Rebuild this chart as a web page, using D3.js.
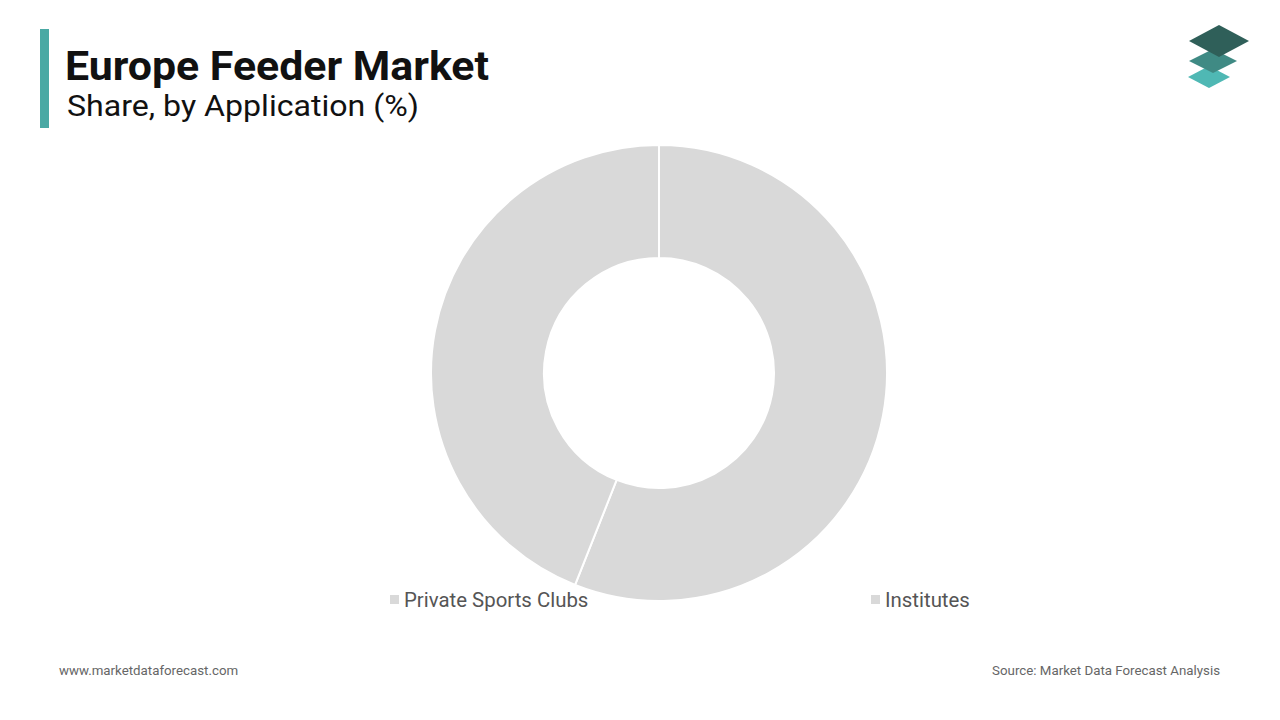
<!DOCTYPE html>
<html><head><meta charset="utf-8">
<script src="https://cdn.jsdelivr.net/npm/d3@7"></script>
<style>body{margin:0;background:#fff;font-family:Roboto,sans-serif}</style>
</head><body><div id="vis"></div>
<script>
const categories = ["Private Sports Clubs", "Institutes"];
const shares = [56, 44];
const colors = ["#d9d9d9", "#d9d9d9"];

const svg = d3.select("#vis").append("svg").attr("width", 1280).attr("height", 720);

// header
svg.append("rect").attr("x", 40).attr("y", 29).attr("width", 9).attr("height", 99).attr("fill", "#4aa9a4");
svg.append("text").attr("x", 65).attr("y", 80).attr("font-size", 40).attr("font-weight", 700).attr("fill", "#111")
  .attr("textLength", 424).attr("lengthAdjust", "spacingAndGlyphs").text("Europe Feeder Market");
svg.append("text").attr("x", 67).attr("y", 116).attr("font-size", 29).attr("fill", "#111")
  .attr("textLength", 352).attr("lengthAdjust", "spacingAndGlyphs").text("Share, by Application (%)");

// logo
const logo = svg.append("g");
[[1209, 77, "#4fb8b4", 21, 11], [1213, 61, "#3f8a84", 24, 12], [1219, 41, "#2f5f59", 30, 16]].forEach(([cx, cy, c, w, h]) => {
  logo.append("path").attr("d", `M${cx - w},${cy} L${cx},${cy - h} L${cx + w},${cy} L${cx},${cy + h} Z`).attr("fill", c);
});

// donut
const pie = d3.pie().sort(null).value(d => d)(shares);
const arc = d3.arc().innerRadius(115).outerRadius(228);
svg.append("g").attr("transform", "translate(659,373)")
  .selectAll("path").data(pie).join("path")
  .attr("d", arc).attr("fill", (d, i) => colors[i]).attr("stroke", "#fff").attr("stroke-width", 2);

// legend
const lx = [390, 871];
categories.forEach((c, i) => {
  svg.append("rect").attr("x", lx[i]).attr("y", 595).attr("width", 9).attr("height", 9).attr("fill", colors[i]);
  svg.append("text").attr("x", lx[i] + 14).attr("y", 607).attr("font-size", 20.4).attr("fill", "#555").text(c);
});

// footer
svg.append("text").attr("x", 59).attr("y", 675).attr("font-size", 13.3).attr("fill", "#666").text("www.marketdataforecast.com");
svg.append("text").attr("x", 1220).attr("y", 675).attr("text-anchor", "end").attr("font-size", 13.3).attr("fill", "#666").text("Source: Market Data Forecast Analysis");
</script></body></html>
